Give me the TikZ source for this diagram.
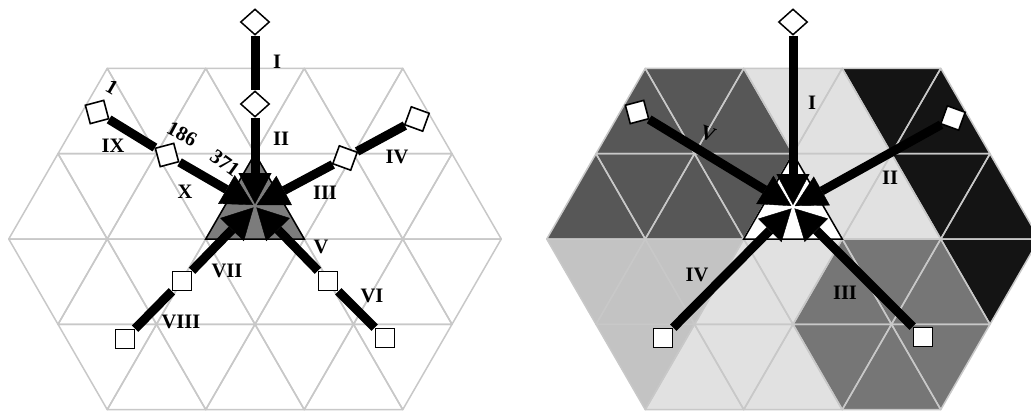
\documentclass[tikz,border=0pt]{standalone}
\usepackage{fontspec}
\setmainfont{Liberation Serif}
\usetikzlibrary{arrows.meta,shapes.geometric}
\definecolor{cD}{HTML}{575757}
\definecolor{cL}{HTML}{E1E1E1}
\definecolor{cK}{HTML}{141414}
\definecolor{cM}{HTML}{C3C3C3}
\definecolor{cG}{HTML}{767676}
\definecolor{gridc}{HTML}{C8C8C8}
\definecolor{ctrgray}{HTML}{7C7C7C}
\pgfdeclarelayer{back}
\pgfdeclarelayer{mid}
\pgfsetlayers{back,mid,main}
\tikzset{
  gridl/.style={draw=gridc, line width=1.5pt, line join=round},
  shaft/.style={line width=9pt},
  arr/.style={shaft, -{Triangle[length=31pt,width=33pt,line width=0.4pt]}, shorten >=2pt},
  dia/.style={diamond, draw, fill=white, line width=1.5pt, minimum width=29pt, minimum height=26pt, inner sep=0pt},
  sq/.style={rectangle, draw, fill=white, line width=1.6pt, minimum size=19pt, inner sep=0pt},
  lab/.style={font=\fontsize{20.5}{22}\selectfont\bfseries, inner sep=0pt},
  ctri/.style={draw=black, line width=1.5pt, line join=miter},
}
\def\trilist{0/1/-3/cD,1/0/-2/cD,0/1/-1/cD,1/0/0/cL,0/1/1/cL,1/0/2/cK,0/1/3/cK,%
1/2/-4/cD,2/1/-3/cD,1/2/-2/cD,2/1/-1/cD,1/2/0/white,2/1/1/cL,1/2/2/cL,2/1/3/cK,1/2/4/cK,%
3/2/-4/cM,2/3/-3/cM,3/2/-2/cM,2/3/-1/cL,3/2/0/cL,2/3/1/cG,3/2/2/cG,2/3/3/cG,3/2/4/cK,%
4/3/-3/cM,3/4/-2/cL,4/3/-1/cL,3/4/0/cL,4/3/1/cG,3/4/2/cG,4/3/3/cG}
\begin{document}
\begin{tikzpicture}[x=1pt,y=-1pt]
\useasboundingbox (0,0) rectangle (1031,412);
\begin{pgfonlayer}{back}
\fill[white] (0,0) rectangle (1031,412);
% right hexagon fills
\foreach \pa/\pb/\pu/\col in \trilist {
  \fill[\col] ({793+\pu*49.25},{239+(\pa-2)*85.3}) -- ({793+(\pu-1)*49.25},{239+(\pb-2)*85.3}) -- ({793+(\pu+1)*49.25},{239+(\pb-2)*85.3}) -- cycle;
}
% grids
\foreach \pa/\pb/\pu/\col in \trilist {
  \draw[gridl] ({793+\pu*49.25},{239+(\pa-2)*85.3}) -- ({793+(\pu-1)*49.25},{239+(\pb-2)*85.3}) -- ({793+(\pu+1)*49.25},{239+(\pb-2)*85.3}) -- cycle;
  \draw[gridl] ({255+\pu*49.25},{239+(\pa-2)*85.3}) -- ({255+(\pu-1)*49.25},{239+(\pb-2)*85.3}) -- ({255+(\pu+1)*49.25},{239+(\pb-2)*85.3}) -- cycle;
}
\end{pgfonlayer}

% ---------- left picture ----------
\coordinate (CL) at (255,206);
\node[dia] (T1L) at (255,22) {};
\node[dia] (T2L) at (255,104) {};
\node[sq, rotate=15] (UL1L) at (97,112) {};
\node[sq, rotate=15] (UL2L) at (167,155) {};
\node[sq, rotate=-20] (UR1L) at (417,119) {};
\node[sq, rotate=-20] (UR2L) at (345,158) {};
\node[sq] (LL1L) at (125,339) {};
\node[sq] (LL2L) at (182,281) {};
\node[sq] (LR1L) at (385,338) {};
\node[sq] (LR2L) at (328,281) {};
\begin{pgfonlayer}{mid}
\draw[ctri, fill=ctrgray] (255,153.7) -- (205.75,239) -- (304.25,239) -- cycle;
\draw[shaft] (T1L) -- (T2L);
\draw[shaft] (UL1L) -- (UL2L);
\draw[shaft] (UR1L) -- (UR2L);
\draw[shaft] (LL1L) -- (LL2L);
\draw[shaft] (LR1L) -- (LR2L);
\draw[arr] (T2L) -- (CL);
\draw[arr] (UL2L) -- (CL);
\draw[arr] (UR2L) -- (CL);
\draw[arr] (LL2L) -- (CL);
\draw[arr] (LR2L) -- (CL);
\end{pgfonlayer}
\node[lab] (lI) at (277,62) {I};
\node[lab] (lII) at (281,139) {II};
\node[lab, rotate=-30] (l1) at (112,87) {1};
\node[lab] (lIX) at (113,146) {IX};
\node[lab, rotate=-28] (l186) at (182,134) {186};
\node[lab, rotate=-36] (l371) at (225,163) {371};
\node[lab] (lX) at (185,192) {X};
\node[lab] (lIII) at (325,193) {III};
\node[lab] (lIV) at (397,157) {IV};
\node[lab] (lV) at (321,247) {V};
\node[lab] (lVI) at (372,296) {VI};
\node[lab] (lVII) at (227,271) {VII};
\node[lab] (lVIII) at (181,322) {VIII};

% ---------- right picture ----------
\coordinate (CR) at (793,207);
\node[dia] (TR) at (793,22) {};
\node[sq, rotate=15] (ULR) at (637,112) {};
\node[sq, rotate=-20] (URR) at (953,118) {};
\node[sq] (LLR) at (663,338) {};
\node[sq] (LRR) at (923,337) {};
\begin{pgfonlayer}{mid}
\draw[ctri, fill=white] (793,153.7) -- (743.75,239) -- (842.25,239) -- cycle;
\draw[arr] (TR) -- (CR);
\draw[arr] (ULR) -- (CR);
\draw[arr] (URR) -- (CR);
\draw[arr] (LLR) -- (CR);
\draw[arr] (LRR) -- (CR);
\end{pgfonlayer}
\node[lab] (rI) at (812,103) {I};
\node[lab] (rII) at (890,178) {II};
\node[lab] (rIII) at (845,293) {III};
\node[lab] (rIV) at (697,275) {IV};
\node[lab, rotate=-20] (rV) at (708,134) {V};
\end{tikzpicture}
\end{document}
